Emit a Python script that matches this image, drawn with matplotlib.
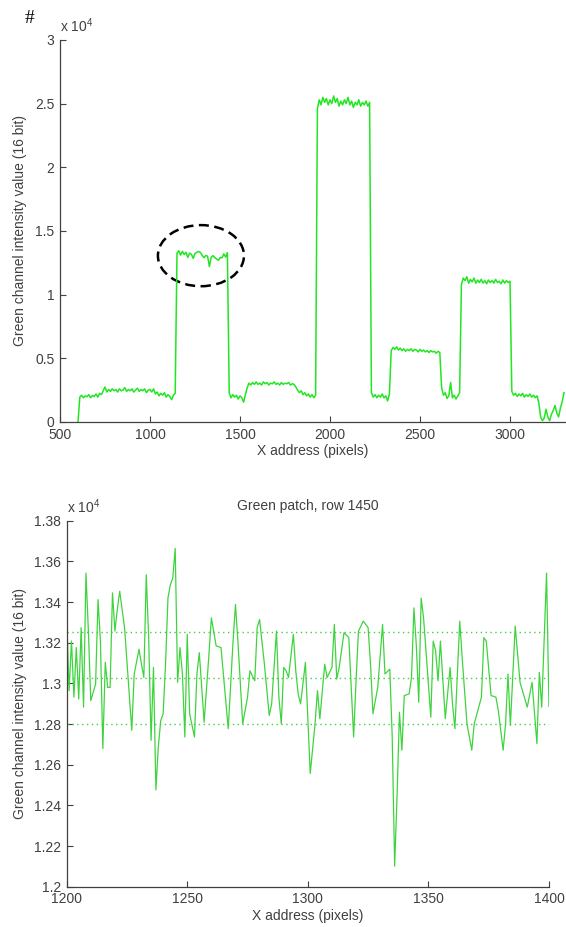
import numpy as np
import matplotlib
matplotlib.use('Agg')
import matplotlib.pyplot as plt
from matplotlib.patches import Ellipse
from matplotlib.ticker import FuncFormatter

plt.rcParams['font.family'] = ['Liberation Sans', 'DejaVu Sans']
plt.rcParams['mathtext.fontset'] = 'custom'
plt.rcParams['mathtext.rm'] = 'Liberation Sans'

# --- DATA ---

# full row profile, sampled every 10 pixels from x = 600 to 3300
row_x = np.arange(600, 3301, 10)
row_values = [
    # 600 - 1140, dark patch
    0, 1950, 2100, 1900, 2050, 1980, 2150, 1900, 2080, 2000,
    2200, 1950, 2250, 2150, 2450, 2750, 2350, 2550, 2400, 2600,
    2450, 2550, 2350, 2600, 2450, 2500, 2700, 2400, 2550, 2450,
    2600, 2350, 2500, 2650, 2400, 2550, 2450, 2600, 2300, 2500,
    2550, 2350, 2600, 2200, 2350, 2050, 2250, 2100, 2300, 1950,
    2150, 2000, 1750, 2100, 2250,
    # 1150 - 1430, green patch
    13250, 13450, 13100, 13400, 13150, 13330, 12920, 13260, 13170, 12850,
    13240, 13320, 13390, 13310, 13080, 12900, 13080, 13010, 12200, 12950,
    13060, 12900, 12800, 12700, 12920, 12890, 13200, 12950, 13300,
    # 1440 - 1530
    2300, 1900, 2150, 1950, 2100, 1800, 2050, 1900, 1550, 2150,
    # 1540 - 1800
    2700, 3050, 2900, 3100, 2950, 3150, 2950, 3050, 2900, 3150,
    3000, 3100, 2900, 3050, 3000, 3150, 2950, 3050, 2900, 3100,
    2950, 3050, 3000, 3100, 2900, 3000, 2950,
    # 1810 - 1920
    2750, 2500, 2300, 2450, 2150, 2300, 2050, 2200, 1950, 2150,
    1900, 2100,
    # 1930 - 2220, bright patch
    24600, 25300, 24900, 25500, 25100, 25400, 24900, 25300, 25000, 25600,
    25100, 25400, 24800, 25200, 24900, 25300, 25000, 25500, 24900, 25200,
    24700, 25100, 24900, 25300, 24800, 25100, 24900, 25200, 24800, 25100,
    # 2230 - 2330
    2300, 1950, 2150, 1900, 2100, 1950, 2200, 1900, 2050, 1650,
    2200,
    # 2340 - 2610
    5600, 5850, 5700, 5900, 5650, 5800, 5600, 5750, 5550, 5700,
    5600, 5750, 5550, 5700, 5650, 5500, 5700, 5550, 5650, 5500,
    5600, 5450, 5600, 5500, 5550, 5400, 5550, 5450,
    # 2620 - 2720
    2700, 2100, 2300, 1850, 2050, 3100, 1900, 2100, 1800, 2050,
    2300,
    # 2730 - 3000
    10800, 11300, 11100, 11400, 10900, 11200, 11000, 11300, 10900, 11150,
    10950, 11200, 10900, 11100, 10850, 11150, 10950, 11100, 10900, 11200,
    10950, 11050, 10850, 11150, 10900, 11100, 10950, 11050,
    # 3010 - 3150
    2400, 2100, 2250, 2000, 2200, 2050, 2250, 1950, 2150, 2000,
    2200, 1950, 2100, 1900, 2050,
    # 3160 - 3300
    1500, 400, 100, 300, 1000, 400, 100, 600, 900, 1300,
    700, 400, 1100, 1600, 2300,
]

# zoom on the green patch, row 1450 (turning points of the trace)
patch_x = [
    1200, 1201, 1202, 1203, 1204, 1205, 1206, 1207, 1208, 1209,
    1210, 1212, 1213, 1214, 1215, 1216, 1217, 1218, 1219, 1220,
    1221, 1222, 1224, 1227, 1228, 1230, 1231, 1232, 1233, 1234,
    1235, 1236, 1237, 1238, 1239, 1240, 1241, 1242, 1243, 1244,
    1245, 1246, 1247, 1248, 1249, 1250, 1251, 1253, 1254, 1255,
    1257, 1259, 1260, 1262, 1264, 1267, 1269, 1270, 1271, 1273,
    1275, 1276, 1278, 1279, 1280, 1282, 1284, 1285, 1287, 1288,
    1289, 1290, 1291, 1292, 1294, 1295, 1296, 1297, 1299, 1301,
    1303, 1304, 1305, 1307, 1308, 1310, 1311, 1312, 1313, 1315,
    1317, 1319, 1320, 1321, 1323, 1325, 1326, 1327, 1329, 1331,
    1332, 1334, 1335, 1336, 1337, 1338, 1339, 1340, 1342, 1343,
    1344, 1345, 1346, 1347, 1348, 1349, 1351, 1352, 1353, 1354,
    1355, 1357, 1359, 1360, 1361, 1362, 1363, 1364, 1366, 1368,
    1369, 1372, 1373, 1374, 1376, 1378, 1379, 1381, 1382, 1383,
    1384, 1386, 1388, 1390, 1391, 1393, 1395, 1396, 1397, 1398,
    1399, 1400,
]
patch_values = [
    13331, 12964, 13208, 12932, 13176, 12923, 13274, 12883, 13542, 13257,
    12915, 12997, 13412, 13208, 12679, 13103, 12980, 12980, 13445, 13257,
    13363, 13453, 13274, 12769, 13046, 13168, 13094, 13029, 13534, 13225,
    12720, 13078, 12476, 12687, 12817, 12850, 13094, 13420, 13485, 13518,
    13664, 13005, 13176, 13046, 12736, 13241, 12850, 12736, 13046, 13151,
    12809, 13143, 13322, 13184, 13176, 12777, 13208, 13388, 13208, 12801,
    12932, 13062, 13013, 13274, 13314, 13094, 12842, 12899, 13257, 12932,
    12801, 13078, 13062, 13029, 13241, 13062, 12948, 12899, 13103, 12557,
    12801, 12964, 12826, 13094, 13029, 13078, 13290, 13021, 13078, 13249,
    13225, 12736, 13013, 13257, 13306, 13274, 13094, 12850, 12980, 13290,
    13046, 13070, 12736, 12101, 12443, 12858, 12671, 12940, 12948, 13029,
    13371, 13184, 12907, 13420, 13322, 13160, 12834, 13208, 13160, 13013,
    13208, 12826, 13078, 12899, 12777, 13046, 13306, 13127, 12801, 12671,
    12801, 12932, 13225, 13208, 12940, 12932, 12866, 12671, 12801, 13046,
    12793, 13282, 13005, 12923, 12883, 13005, 12704, 13054, 12883, 13208,
    13542, 12886,
]

# mean and +/- one standard deviation (dotted guides)
patch_mean = 13027
patch_std = 228

# circled region on the overview
circle_center = (1283, 13060)
circle_size = (478, 4800)

LINE_GREEN = '#22e622'
ZOOM_GREEN = '#3fd43f'
AXIS_GRAY = '#404040'


def styleAxes(ax):
    for side in ('top', 'right'):
        ax.spines[side].set_visible(False)
    for side in ('left', 'bottom'):
        ax.spines[side].set_color(AXIS_GRAY)
        ax.spines[side].set_linewidth(0.9)
    ax.tick_params(direction='in', length=4, width=0.8, colors=AXIS_GRAY,
                   labelsize=10, labelcolor=AXIS_GRAY, pad=4)
    ax.yaxis.set_major_formatter(FuncFormatter(lambda v, p: '%g' % round(v / 1e4, 4)))
    ax.set_xlabel('X address (pixels)', fontsize=10, color=AXIS_GRAY, labelpad=2)
    ax.set_ylabel('Green channel intensity value (16 bit)', fontsize=10, color=AXIS_GRAY)
    ax.text(0.0, 1.012, r'x 10$^{\mathregular{4}}$', transform=ax.transAxes,
            fontsize=10, color=AXIS_GRAY, ha='left', va='bottom')


fig = plt.figure(figsize=(5.66, 9.27), dpi=100)

# --- OVERVIEW ---
ax1 = fig.add_axes([0.1060, 0.5448, 0.8940, 0.4121])
ax1.plot(row_x, row_values, color=LINE_GREEN, linewidth=1.1)
ax1.add_patch(Ellipse(circle_center, circle_size[0], circle_size[1], fill=False,
                      edgecolor='black', linewidth=1.8, linestyle=(0, (4, 2.2))))
ax1.set_xlim(500, 3311)
ax1.set_ylim(0, 30000)
ax1.set_xticks([500, 1000, 1500, 2000, 2500, 3000])
ax1.set_yticks(np.arange(0, 30001, 5000))
styleAxes(ax1)
ax1.yaxis.set_label_coords(-0.066, 0.5)

# --- ZOOM ---
ax2 = fig.add_axes([0.1178, 0.0435, 0.8521, 0.3948])
ax2.plot(patch_x, patch_values, color=ZOOM_GREEN, linewidth=0.9)
for level in (patch_mean - patch_std, patch_mean, patch_mean + patch_std):
    ax2.axhline(level, color=ZOOM_GREEN, linestyle=(0, (1, 2.5)), linewidth=1.0)
ax2.set_xlim(1200, 1400)
ax2.set_ylim(12000, 13800)
ax2.set_xticks([1200, 1250, 1300, 1350, 1400])
ax2.set_yticks(np.arange(12000, 13801, 200))
styleAxes(ax2)
ax2.yaxis.set_label_coords(-0.082, 0.5)
ax2.set_title('Green patch, row 1450', fontsize=10, color=AXIS_GRAY, pad=8)

fig.text(0.053, 0.980, '#', fontsize=14, family='Liberation Serif', color='black',
         ha='center', va='center')

fig.savefig('out.png', dpi=100)
